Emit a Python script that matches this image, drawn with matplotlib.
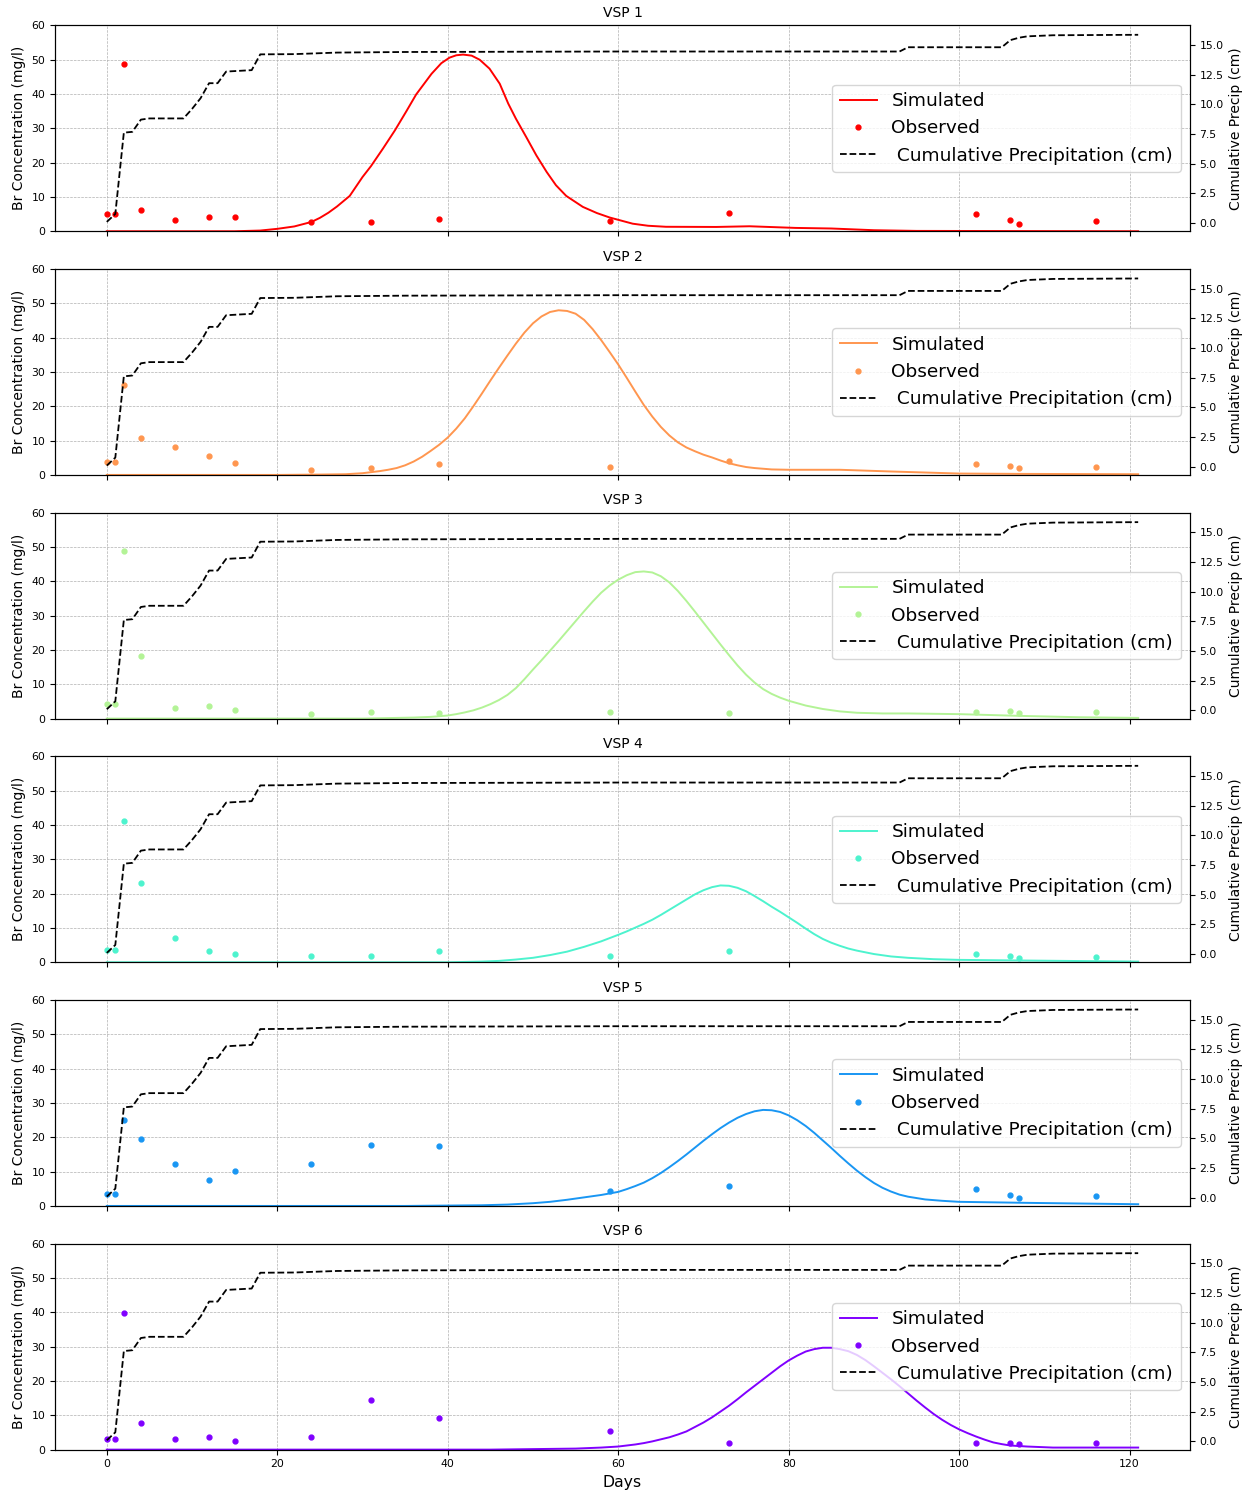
import numpy as np
import matplotlib
matplotlib.use("Agg")
import matplotlib.pyplot as plt
from matplotlib.ticker import MultipleLocator

# cumulative precipitation (cm)
precip_days = [0, 1, 2, 3, 4, 5, 9, 10, 11, 12, 13, 14, 17, 18, 22, 27, 35, 60, 93, 94, 105, 106, 107, 108, 111, 121]
precip_cm = [0.08, 0.75, 7.6, 7.67, 8.7, 8.8, 8.8, 9.6, 10.5, 11.77, 11.77, 12.75, 12.87, 14.2, 14.22,
             14.35, 14.4, 14.44, 14.44, 14.8, 14.8, 15.4, 15.6, 15.72, 15.81, 15.85]

# observed Br concentration (mg/l)
obs_days = [0, 1, 2, 4, 8, 12, 15, 24, 31, 39, 59, 73, 102, 106, 107, 116]
obs1 = [5.1, 5.1, 48.8, 6.3, 3.4, 4.1, 4.1, 2.6, 2.6, 3.5, 3.1, 5.3, 4.9, 3.4, 2.2, 3.1]
obs2 = [3.8, 3.8, 26.2, 10.7, 8.0, 5.5, 3.6, 1.4, 1.9, 3.3, 2.4, 4.1, 3.3, 2.6, 2.1, 2.4]
obs3 = [4.3, 4.3, 49.0, 18.2, 3.1, 3.8, 2.6, 1.4, 1.8, 1.7, 1.8, 1.7, 1.8, 2.1, 1.7, 1.8]
obs4 = [3.5, 3.5, 41.2, 23.0, 7.2, 3.3, 2.5, 1.8, 1.8, 3.3, 1.8, 3.3, 2.5, 1.8, 1.3, 1.6]
obs5 = [3.5, 3.5, 25.1, 19.4, 12.3, 7.7, 10.1, 12.3, 17.9, 17.4, 4.3, 5.7, 4.8, 3.3, 2.3, 3.0]
obs6 = [3.1, 3.1, 39.7, 7.8, 3.1, 3.6, 2.6, 3.8, 14.6, 9.1, 5.5, 1.8, 1.8, 1.8, 1.6, 1.8]

# simulated Br concentration (mg/l)
sim1_days = [0, 15, 18, 20, 22, 24, 25, 26, 27, 28.5, 30, 31, 32.4, 33.8, 35.15, 36.3, 38.1, 39.25, 40.2,
             41.0, 41.8, 42.8, 43.75, 44.9, 46.1, 47.1, 48.0, 49.2, 50.4, 51.6, 52.7, 53.9, 55.85, 57.5,
             59, 61.7, 63.5, 65.6, 71.5, 75.4, 80.8, 85, 90, 95, 121]
sim1 = [0, 0, 0.2, 0.7, 1.4, 2.7, 3.9, 5.4, 7.2, 10.3, 15.8, 19.0, 24.1, 29.4, 35.0, 39.9, 45.9, 49.0, 50.6,
        51.3, 51.5, 51.2, 50.0, 47.4, 43.0, 37.2, 32.8, 27.5, 22.1, 17.3, 13.4, 10.3, 7.1, 5.3,
        4.0, 2.2, 1.6, 1.3, 1.25, 1.45, 0.97, 0.8, 0.3, 0.1, 0.0]

sim2_days = [0, 20, 25, 28, 30, 32, 33, 34, 35, 36, 37, 38, 39, 40, 41, 42, 43, 44, 45, 46, 47, 48, 49,
             50, 51, 52, 53, 54, 55, 56, 57, 58, 59, 60, 61, 62, 63, 64, 65, 66, 67, 68, 69, 70, 71,
             72, 73, 74, 75, 76, 78, 80, 86, 92, 100, 107, 121]
sim2 = [0, 0, 0.1, 0.2, 0.5, 1.1, 1.5, 2.0, 2.8, 3.9, 5.3, 7.0, 8.8, 10.9, 13.5, 16.5, 20.0, 23.7, 27.5,
        31.2, 34.8, 38.3, 41.5, 44.2, 46.2, 47.5, 48.0, 47.8, 47.0, 45.2, 42.5, 39.3, 35.8, 32.2, 28.3,
        24.3, 20.4, 17.0, 14.0, 11.5, 9.5, 8.0, 6.9, 5.9, 5.1, 4.2, 3.4, 2.8, 2.3, 2.0, 1.6, 1.5, 1.5,
        1.0, 0.4, 0.3, 0.2]

sim3_days = [0, 30, 36, 38, 40, 41, 42, 43, 44, 45, 46, 47, 48, 49, 50, 51, 52, 53, 54, 55, 56, 57, 58,
             59, 60, 61, 62, 63, 64, 65, 66, 67, 68, 69, 70, 71, 72, 73, 74, 75, 76, 77, 78, 79, 80,
             82, 84, 86, 88, 91, 94, 100, 107, 114, 121]
sim3 = [0, 0, 0.3, 0.5, 0.9, 1.3, 1.8, 2.4, 3.2, 4.2, 5.4, 6.9, 8.9, 11.5, 14.3, 17.0, 19.8, 22.6, 25.5,
        28.4, 31.3, 34.1, 36.7, 38.8, 40.5, 41.8, 42.7, 42.9, 42.6, 41.5, 39.7, 37.2, 34.3, 31.2, 28.0,
        24.8, 21.6, 18.5, 15.5, 12.8, 10.5, 8.6, 7.2, 6.1, 5.2, 3.8, 2.8, 2.1, 1.7, 1.5, 1.5, 1.3,
        0.8, 0.4, 0.2]

sim4_days = [0, 40, 44, 46, 48, 50, 52, 54, 56, 58, 60, 61, 62, 63, 64, 65, 66, 67, 68, 69, 70, 71, 72,
             73, 74, 75, 76, 77, 78, 79, 80, 81, 82, 83, 84, 85, 86, 87, 88, 90, 92, 94, 97, 100, 108, 121]
sim4 = [0, 0, 0.2, 0.4, 0.8, 1.3, 2.1, 3.1, 4.5, 6.1, 8.0, 9.0, 10.1, 11.2, 12.4, 13.8, 15.3, 16.8, 18.3,
        19.8, 21.0, 21.9, 22.4, 22.3, 21.7, 20.7, 19.3, 17.8, 16.2, 14.7, 13.1, 11.5, 9.8, 8.2, 6.8,
        5.7, 4.8, 4.0, 3.4, 2.4, 1.7, 1.3, 0.9, 0.7, 0.5, 0.2]

sim5_days = [0, 35, 44, 47, 50, 52, 54, 56, 58, 60, 61, 62, 63, 64, 65, 66, 67, 68, 69, 70, 71, 72, 73,
             74, 75, 76, 77, 78, 79, 80, 81, 82, 83, 84, 85, 86, 87, 88, 89, 90, 91, 92, 93, 94, 96,
             98, 100, 108, 121]
sim5 = [0, 0, 0.2, 0.4, 0.8, 1.2, 1.8, 2.5, 3.2, 4.1, 4.9, 5.8, 6.8, 8.1, 9.6, 11.3, 13.1, 15.0, 17.0,
        19.0, 20.9, 22.7, 24.3, 25.7, 26.8, 27.6, 28.0, 27.9, 27.4, 26.4, 25.0, 23.3, 21.3, 19.1, 16.9,
        14.6, 12.4, 10.3, 8.4, 6.7, 5.3, 4.2, 3.3, 2.7, 1.9, 1.5, 1.2, 0.9, 0.5]

sim6_days = [0, 45, 55, 58, 60, 61, 62, 63, 64, 65, 66, 67, 68, 69, 70, 71, 72, 73, 74, 75, 76, 77, 78,
             79, 80, 81, 82, 83, 84, 85, 86, 87, 88, 89, 90, 91, 92, 93, 94, 95, 96, 97, 98, 99, 100,
             101, 102, 103, 104, 105, 106, 108, 111, 121]
sim6 = [0, 0, 0.3, 0.6, 0.9, 1.2, 1.5, 1.9, 2.4, 3.0, 3.6, 4.4, 5.3, 6.6, 7.9, 9.4, 11.1, 12.8, 14.7,
        16.7, 18.6, 20.5, 22.4, 24.3, 26.0, 27.4, 28.6, 29.3, 29.7, 29.7, 29.3, 28.7, 27.6, 26.1, 24.3,
        22.4, 20.5, 18.5, 16.4, 14.3, 12.3, 10.4, 8.7, 7.2, 5.9, 4.8, 3.8, 2.9, 2.1, 1.6, 1.2, 0.9,
        0.6, 0.6]

sims = [(sim1_days, sim1), (sim2_days, sim2), (sim3_days, sim3),
        (sim4_days, sim4), (sim5_days, sim5), (sim6_days, sim6)]
obs = [obs1, obs2, obs3, obs4, obs5, obs6]

fig, axes = plt.subplots(6, 1, figsize=(12.55, 14.96), dpi=100, sharex=True)
fig.subplots_adjust(left=0.044, right=0.948, top=0.983, bottom=0.031, hspace=0.184)

for i, ax in enumerate(axes):
    c = plt.cm.rainbow(1 - i / 5)
    d, s = sims[i]
    l1, = ax.plot(d, s, color=c, lw=1.4, label="Simulated")
    l2, = ax.plot(obs_days, obs[i], ".", color=c, ms=7, label="Observed")
    ax.set_ylim(0, 60)
    ax.set_ylabel("Br Concentration (mg/l)", fontsize=10)
    ax.set_title("VSP %d" % (i + 1), fontsize=10)
    ax.grid(True, linestyle="--", linewidth=0.5)
    ax.tick_params(labelsize=7.8)

    ax2 = ax.twinx()
    l3, = ax2.plot(precip_days, precip_cm, "k--", lw=1.3, label=" Cumulative Precipitation (cm)")
    ax2.yaxis.set_major_locator(MultipleLocator(2.5))
    ax2.set_ylabel("Cumulative Precip (cm)", fontsize=10)
    ax2.tick_params(labelsize=7.8)
    ax2.legend(handles=[l1, l2, l3], loc="center right", fontsize=13.3)

axes[-1].set_xlabel("Days", fontsize=11.3)

plt.savefig("out.png")
